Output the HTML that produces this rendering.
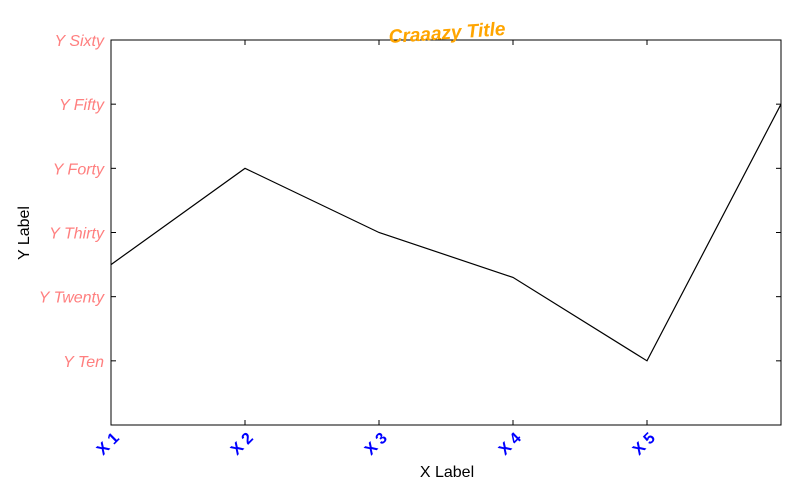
<!DOCTYPE html>
<html><head><meta charset="utf-8"><style>body{margin:0;background:#fff}svg{display:block}</style></head>
<body>
<svg id="chart" width="800" height="493" font-family="Liberation Sans, sans-serif"></svg>
<script>
const categories = ["X 1","X 2","X 3","X 4","X 5"];
const values = [25, 40, 30, 23, 10, 50];
const yTickValues = [10,20,30,40,50,60];
const yTickLabels = ["Y Ten","Y Twenty","Y Thirty","Y Forty","Y Fifty","Y Sixty"];
const NS="http://www.w3.org/2000/svg";
const svg=document.getElementById('chart');
const L=111,R=781,T=40,B=425;
const xs=i=>L+(R-L)*i/5;
const ys=v=>B-(B-T)*v/60;
function el(t,a,p){const e=document.createElementNS(NS,t);for(const k in a)e.setAttribute(k,a[k]);(p||svg).appendChild(e);return e;}
const frame=el('rect',{x:L,y:T,width:R-L,height:B-T,fill:'none',stroke:'#000','stroke-width':1});


yTickValues.forEach((v,i)=>{
  const y=ys(v);
  el('line',{x1:L,x2:L+5,y1:y,y2:y,stroke:'#000'});
  el('line',{x1:R,x2:R-5,y1:y,y2:y,stroke:'#000'});
  const t=el('text',{x:L-7,y:y+6,'text-anchor':'end','font-size':16,'font-style':'italic',fill:'#ff7f7f'});
  t.textContent=yTickLabels[i];
  
  
});
categories.forEach((c,i)=>{
  const x=xs(i);
  el('line',{x1:x,x2:x,y1:B,y2:B-5,stroke:'#000'});
  el('line',{x1:x,x2:x,y1:T,y2:T+5,stroke:'#000'});
  const t=el('text',{x:x+9,y:B+14,'text-anchor':'end','font-size':16,'font-weight':'bold',fill:'#0000ff',transform:`rotate(-45 ${x+9} ${B+14})`});
  t.textContent=c;
  
  
});
const pts=values.map((v,i)=>xs(i)+','+ys(v)).join(' ');
const line=el('polyline',{points:pts,fill:'none',stroke:'#000','stroke-width':1.2});


const title=el('text',{x:447,y:39,'text-anchor':'middle','font-size':19,'font-weight':'bold','font-style':'italic',fill:'#ffa500',transform:'rotate(-4 447 32)'});
title.textContent='Craaazy Title';


const xl=el('text',{x:447,y:477,'text-anchor':'middle','font-size':16,fill:'#000'});
xl.textContent='X Label';


const yl=el('text',{x:29,y:233,'text-anchor':'middle','font-size':16,fill:'#000',transform:'rotate(-90 29 233)'});
yl.textContent='Y Label';


</script>
</body></html>
